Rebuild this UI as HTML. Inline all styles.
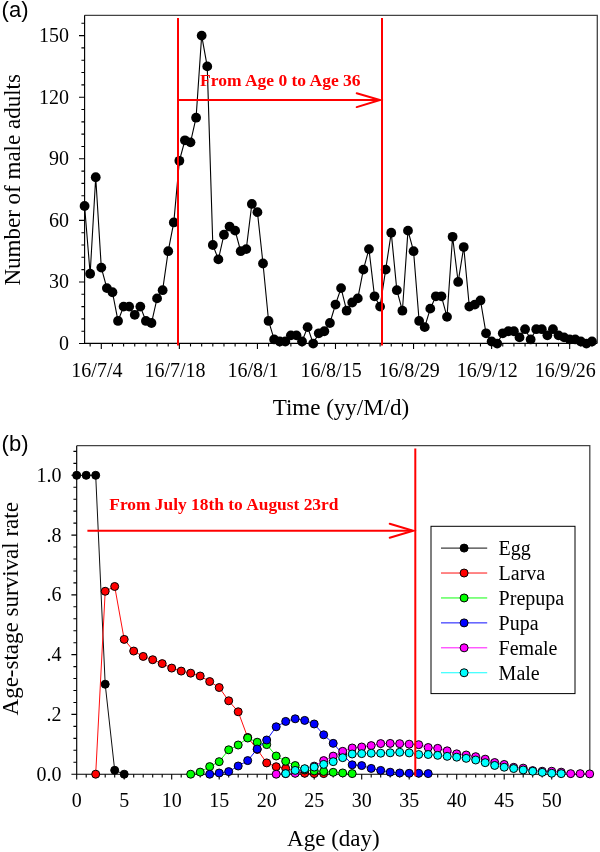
<!DOCTYPE html>
<html><head><meta charset="utf-8"><title>Figure</title>
<style>
html,body{margin:0;padding:0;background:#fff;}
body{width:600px;height:852px;overflow:hidden;}
svg{display:block;will-change:transform;}
.s{font-family:"Liberation Serif",serif;fill:#000;}
.rb{font-family:"Liberation Serif",serif;font-weight:bold;fill:#ff0000;}
.h{font-family:"Liberation Sans",sans-serif;fill:#000;}
</style></head><body>
<svg width="600" height="852" viewBox="0 0 600 852">
<rect width="600" height="852" fill="#fff"/>
<g id="a">
<path d="M84.6 15.3H597.3V343.3" fill="none" stroke="#444" stroke-width="1.3"/>
<path d="M84.6 15.3V343.3H597.3" fill="none" stroke="#000" stroke-width="1.15"/>
<path d="M79.00 343.55H84.6M81.40 331.23H84.6M81.40 318.91H84.6M81.40 306.60H84.6M81.40 294.28H84.6M79.00 281.96H84.6M81.40 269.64H84.6M81.40 257.32H84.6M81.40 245.01H84.6M81.40 232.69H84.6M79.00 220.37H84.6M81.40 208.05H84.6M81.40 195.73H84.6M81.40 183.42H84.6M81.40 171.10H84.6M79.00 158.78H84.6M81.40 146.46H84.6M81.40 134.14H84.6M81.40 121.83H84.6M81.40 109.51H84.6M79.00 97.19H84.6M81.40 84.87H84.6M81.40 72.55H84.6M81.40 60.24H84.6M81.40 47.92H84.6M79.00 35.60H84.6M81.40 23.28H84.6" stroke="#000" stroke-width="1.1" fill="none"/>
<path d="M90.15 343.3V346.50M101.30 343.3V348.90M112.45 343.3V346.50M123.60 343.3V346.50M134.75 343.3V346.50M145.91 343.3V346.50M157.06 343.3V346.50M168.21 343.3V346.50M179.36 343.3V348.90M190.51 343.3V346.50M201.67 343.3V346.50M212.82 343.3V346.50M223.97 343.3V346.50M235.12 343.3V346.50M246.27 343.3V346.50M257.43 343.3V348.90M268.58 343.3V346.50M279.73 343.3V346.50M290.88 343.3V346.50M302.03 343.3V346.50M313.19 343.3V346.50M324.34 343.3V346.50M335.49 343.3V348.90M346.64 343.3V346.50M357.79 343.3V346.50M368.95 343.3V346.50M380.10 343.3V346.50M391.25 343.3V346.50M402.40 343.3V346.50M413.55 343.3V348.90M424.71 343.3V346.50M435.86 343.3V346.50M447.01 343.3V346.50M458.16 343.3V346.50M469.31 343.3V346.50M480.47 343.3V346.50M491.62 343.3V348.90M502.77 343.3V346.50M513.92 343.3V346.50M525.07 343.3V346.50M536.23 343.3V346.50M547.38 343.3V346.50M558.53 343.3V346.50M569.68 343.3V348.90M580.83 343.3V346.50M591.99 343.3V346.50" stroke="#000" stroke-width="1.1" fill="none"/>
<polyline points="84.57,206.00 90.15,273.75 95.72,177.26 101.30,267.59 106.87,288.12 112.45,292.23 118.03,320.97 123.60,306.60 129.18,306.60 134.75,314.81 140.33,306.60 145.91,320.97 151.48,323.02 157.06,298.38 162.63,290.17 168.21,251.17 173.79,222.42 179.36,160.83 184.94,140.30 190.51,142.36 196.09,117.72 201.67,35.60 207.24,66.40 212.82,245.01 218.39,259.38 223.97,234.74 229.55,226.53 235.12,230.64 240.70,251.17 246.27,249.11 251.85,203.95 257.43,212.16 263.00,263.48 268.58,320.97 274.15,339.44 279.73,341.50 285.31,341.50 290.88,335.34 296.46,335.34 302.03,341.50 307.61,327.13 313.19,343.55 318.76,333.29 324.34,331.23 329.91,323.02 335.49,304.54 341.07,288.12 346.64,310.70 352.22,302.49 357.79,298.38 363.37,269.64 368.95,249.11 374.52,296.33 380.10,306.60 385.67,269.64 391.25,232.69 396.83,290.17 402.40,310.70 407.98,230.64 413.55,251.17 419.13,320.97 424.71,327.13 430.28,308.65 435.86,296.33 441.43,296.33 447.01,316.86 452.59,236.79 458.16,281.96 463.74,247.06 469.31,306.60 474.89,304.54 480.47,300.44 486.04,333.29 491.62,341.50 497.19,343.55 502.77,333.29 508.35,331.23 513.92,331.23 519.50,337.39 525.07,329.18 530.65,339.44 536.23,329.18 541.80,329.18 547.38,335.34 552.95,329.18 558.53,335.34 564.11,337.39 569.68,339.44 575.26,339.44 580.83,341.50 586.41,343.55 591.99,341.50" fill="none" stroke="#000" stroke-width="1.1"/>
<g fill="#000"><circle cx="84.57" cy="206.00" r="4.9"/><circle cx="90.15" cy="273.75" r="4.9"/><circle cx="95.72" cy="177.26" r="4.9"/><circle cx="101.30" cy="267.59" r="4.9"/><circle cx="106.87" cy="288.12" r="4.9"/><circle cx="112.45" cy="292.23" r="4.9"/><circle cx="118.03" cy="320.97" r="4.9"/><circle cx="123.60" cy="306.60" r="4.9"/><circle cx="129.18" cy="306.60" r="4.9"/><circle cx="134.75" cy="314.81" r="4.9"/><circle cx="140.33" cy="306.60" r="4.9"/><circle cx="145.91" cy="320.97" r="4.9"/><circle cx="151.48" cy="323.02" r="4.9"/><circle cx="157.06" cy="298.38" r="4.9"/><circle cx="162.63" cy="290.17" r="4.9"/><circle cx="168.21" cy="251.17" r="4.9"/><circle cx="173.79" cy="222.42" r="4.9"/><circle cx="179.36" cy="160.83" r="4.9"/><circle cx="184.94" cy="140.30" r="4.9"/><circle cx="190.51" cy="142.36" r="4.9"/><circle cx="196.09" cy="117.72" r="4.9"/><circle cx="201.67" cy="35.60" r="4.9"/><circle cx="207.24" cy="66.40" r="4.9"/><circle cx="212.82" cy="245.01" r="4.9"/><circle cx="218.39" cy="259.38" r="4.9"/><circle cx="223.97" cy="234.74" r="4.9"/><circle cx="229.55" cy="226.53" r="4.9"/><circle cx="235.12" cy="230.64" r="4.9"/><circle cx="240.70" cy="251.17" r="4.9"/><circle cx="246.27" cy="249.11" r="4.9"/><circle cx="251.85" cy="203.95" r="4.9"/><circle cx="257.43" cy="212.16" r="4.9"/><circle cx="263.00" cy="263.48" r="4.9"/><circle cx="268.58" cy="320.97" r="4.9"/><circle cx="274.15" cy="339.44" r="4.9"/><circle cx="279.73" cy="341.50" r="4.9"/><circle cx="285.31" cy="341.50" r="4.9"/><circle cx="290.88" cy="335.34" r="4.9"/><circle cx="296.46" cy="335.34" r="4.9"/><circle cx="302.03" cy="341.50" r="4.9"/><circle cx="307.61" cy="327.13" r="4.9"/><circle cx="313.19" cy="343.55" r="4.9"/><circle cx="318.76" cy="333.29" r="4.9"/><circle cx="324.34" cy="331.23" r="4.9"/><circle cx="329.91" cy="323.02" r="4.9"/><circle cx="335.49" cy="304.54" r="4.9"/><circle cx="341.07" cy="288.12" r="4.9"/><circle cx="346.64" cy="310.70" r="4.9"/><circle cx="352.22" cy="302.49" r="4.9"/><circle cx="357.79" cy="298.38" r="4.9"/><circle cx="363.37" cy="269.64" r="4.9"/><circle cx="368.95" cy="249.11" r="4.9"/><circle cx="374.52" cy="296.33" r="4.9"/><circle cx="380.10" cy="306.60" r="4.9"/><circle cx="385.67" cy="269.64" r="4.9"/><circle cx="391.25" cy="232.69" r="4.9"/><circle cx="396.83" cy="290.17" r="4.9"/><circle cx="402.40" cy="310.70" r="4.9"/><circle cx="407.98" cy="230.64" r="4.9"/><circle cx="413.55" cy="251.17" r="4.9"/><circle cx="419.13" cy="320.97" r="4.9"/><circle cx="424.71" cy="327.13" r="4.9"/><circle cx="430.28" cy="308.65" r="4.9"/><circle cx="435.86" cy="296.33" r="4.9"/><circle cx="441.43" cy="296.33" r="4.9"/><circle cx="447.01" cy="316.86" r="4.9"/><circle cx="452.59" cy="236.79" r="4.9"/><circle cx="458.16" cy="281.96" r="4.9"/><circle cx="463.74" cy="247.06" r="4.9"/><circle cx="469.31" cy="306.60" r="4.9"/><circle cx="474.89" cy="304.54" r="4.9"/><circle cx="480.47" cy="300.44" r="4.9"/><circle cx="486.04" cy="333.29" r="4.9"/><circle cx="491.62" cy="341.50" r="4.9"/><circle cx="497.19" cy="343.55" r="4.9"/><circle cx="502.77" cy="333.29" r="4.9"/><circle cx="508.35" cy="331.23" r="4.9"/><circle cx="513.92" cy="331.23" r="4.9"/><circle cx="519.50" cy="337.39" r="4.9"/><circle cx="525.07" cy="329.18" r="4.9"/><circle cx="530.65" cy="339.44" r="4.9"/><circle cx="536.23" cy="329.18" r="4.9"/><circle cx="541.80" cy="329.18" r="4.9"/><circle cx="547.38" cy="335.34" r="4.9"/><circle cx="552.95" cy="329.18" r="4.9"/><circle cx="558.53" cy="335.34" r="4.9"/><circle cx="564.11" cy="337.39" r="4.9"/><circle cx="569.68" cy="339.44" r="4.9"/><circle cx="575.26" cy="339.44" r="4.9"/><circle cx="580.83" cy="341.50" r="4.9"/><circle cx="586.41" cy="343.55" r="4.9"/><circle cx="591.99" cy="341.50" r="4.9"/></g>
<g stroke="#ff0000" fill="none" stroke-width="2">
<path d="M178 18V345.4M382 18V345.4"/>
<path d="M178 100H379"/>
<path d="M356.7 93.3L380 100L356.7 107.1" stroke-linecap="round" stroke-linejoin="miter"/>
</g>
<text x="200.0" y="85.7" class="rb" font-size="17.5">From Age 0 to Age 36</text>
<text x="69" y="349.95" class="s" font-size="20" text-anchor="end">0</text>
<text x="69" y="288.36" class="s" font-size="20" text-anchor="end">30</text>
<text x="69" y="226.77" class="s" font-size="20" text-anchor="end">60</text>
<text x="69" y="165.18" class="s" font-size="20" text-anchor="end">90</text>
<text x="69" y="103.59" class="s" font-size="20" text-anchor="end">120</text>
<text x="69" y="42.00" class="s" font-size="20" text-anchor="end">150</text>
<text x="96.90" y="376.6" class="s" font-size="20" text-anchor="middle">16/7/4</text>
<text x="174.96" y="376.6" class="s" font-size="20" text-anchor="middle">16/7/18</text>
<text x="253.03" y="376.6" class="s" font-size="20" text-anchor="middle">16/8/1</text>
<text x="331.09" y="376.6" class="s" font-size="20" text-anchor="middle">16/8/15</text>
<text x="409.15" y="376.6" class="s" font-size="20" text-anchor="middle">16/8/29</text>
<text x="487.22" y="376.6" class="s" font-size="20" text-anchor="middle">16/9/12</text>
<text x="565.28" y="376.6" class="s" font-size="20" text-anchor="middle">16/9/26</text>
<text x="341" y="415.1" class="s" font-size="23" text-anchor="middle">Time (yy/M/d)</text>
<text transform="translate(19.8 179.8) rotate(-90)" class="s" font-size="23" text-anchor="middle">Number of male adults</text>
<text x="1.6" y="16.7" class="h" font-size="22">(a)</text>
</g>
<g id="b">
<path d="M76.7 445.7H589.8V774.2" fill="none" stroke="#444" stroke-width="1.3"/>
<path d="M76.7 445.7V774.2H589.8" fill="none" stroke="#000" stroke-width="1.15"/>
<path d="M71.40 774.20H76.7M73.40 762.24H76.7M73.40 750.29H76.7M73.40 738.33H76.7M73.40 726.38H76.7M71.40 714.42H76.7M73.40 702.46H76.7M73.40 690.51H76.7M73.40 678.55H76.7M73.40 666.60H76.7M71.40 654.64H76.7M73.40 642.68H76.7M73.40 630.73H76.7M73.40 618.77H76.7M73.40 606.82H76.7M71.40 594.86H76.7M73.40 582.90H76.7M73.40 570.95H76.7M73.40 558.99H76.7M73.40 547.04H76.7M71.40 535.08H76.7M73.40 523.12H76.7M73.40 511.17H76.7M73.40 499.21H76.7M73.40 487.26H76.7M71.40 475.30H76.7M73.40 463.34H76.7M73.40 451.39H76.7" stroke="#000" stroke-width="1.1" fill="none"/>
<path d="M76.70 774.2V779.50M86.20 774.2V777.50M95.70 774.2V777.50M105.20 774.2V777.50M114.70 774.2V777.50M124.20 774.2V779.50M133.70 774.2V777.50M143.20 774.2V777.50M152.70 774.2V777.50M162.20 774.2V777.50M171.70 774.2V779.50M181.20 774.2V777.50M190.70 774.2V777.50M200.20 774.2V777.50M209.70 774.2V777.50M219.20 774.2V779.50M228.70 774.2V777.50M238.20 774.2V777.50M247.70 774.2V777.50M257.20 774.2V777.50M266.70 774.2V779.50M276.20 774.2V777.50M285.70 774.2V777.50M295.20 774.2V777.50M304.70 774.2V777.50M314.20 774.2V779.50M323.70 774.2V777.50M333.20 774.2V777.50M342.70 774.2V777.50M352.20 774.2V777.50M361.70 774.2V779.50M371.20 774.2V777.50M380.70 774.2V777.50M390.20 774.2V777.50M399.70 774.2V777.50M409.20 774.2V779.50M418.70 774.2V777.50M428.20 774.2V777.50M437.70 774.2V777.50M447.20 774.2V777.50M456.70 774.2V779.50M466.20 774.2V777.50M475.70 774.2V777.50M485.20 774.2V777.50M494.70 774.2V777.50M504.20 774.2V779.50M513.70 774.2V777.50M523.20 774.2V777.50M532.70 774.2V777.50M542.20 774.2V777.50M551.70 774.2V779.50M561.20 774.2V777.50M570.70 774.2V777.50M580.20 774.2V777.50M589.70 774.2V777.50" stroke="#000" stroke-width="1.1" fill="none"/>
<polyline points="76.70,475.30 86.20,475.30 95.70,475.30 105.20,684.23 114.70,770.31 124.20,774.20" fill="none" stroke="#000000" stroke-width="0.95"/>
<g fill="#000000" stroke="#000" stroke-width="1"><circle cx="76.70" cy="475.30" r="4.0"/><circle cx="86.20" cy="475.30" r="4.0"/><circle cx="95.70" cy="475.30" r="4.0"/><circle cx="105.20" cy="684.23" r="4.0"/><circle cx="114.70" cy="770.31" r="4.0"/><circle cx="124.20" cy="774.20" r="4.0"/></g>
<polyline points="95.70,774.20 105.20,591.27 114.70,586.49 124.20,639.40 133.70,651.05 143.20,656.43 152.70,659.72 162.20,663.61 171.70,668.09 181.20,671.08 190.70,673.17 200.20,676.01 209.70,681.54 219.20,687.52 228.70,700.79 238.20,711.79 247.70,737.44 257.20,749.39 266.70,762.90 276.20,766.70 285.70,768.40 295.20,771.00 304.70,773.30 314.20,773.60 323.70,773.60" fill="none" stroke="#ff0000" stroke-width="0.95"/>
<g fill="#ff0000" stroke="#000" stroke-width="1"><circle cx="95.70" cy="774.20" r="4.0"/><circle cx="105.20" cy="591.27" r="4.0"/><circle cx="114.70" cy="586.49" r="4.0"/><circle cx="124.20" cy="639.40" r="4.0"/><circle cx="133.70" cy="651.05" r="4.0"/><circle cx="143.20" cy="656.43" r="4.0"/><circle cx="152.70" cy="659.72" r="4.0"/><circle cx="162.20" cy="663.61" r="4.0"/><circle cx="171.70" cy="668.09" r="4.0"/><circle cx="181.20" cy="671.08" r="4.0"/><circle cx="190.70" cy="673.17" r="4.0"/><circle cx="200.20" cy="676.01" r="4.0"/><circle cx="209.70" cy="681.54" r="4.0"/><circle cx="219.20" cy="687.52" r="4.0"/><circle cx="228.70" cy="700.79" r="4.0"/><circle cx="238.20" cy="711.79" r="4.0"/><circle cx="247.70" cy="737.44" r="4.0"/><circle cx="257.20" cy="749.39" r="4.0"/><circle cx="266.70" cy="762.90" r="4.0"/><circle cx="276.20" cy="766.70" r="4.0"/><circle cx="285.70" cy="768.40" r="4.0"/><circle cx="295.20" cy="771.00" r="4.0"/><circle cx="304.70" cy="773.30" r="4.0"/><circle cx="314.20" cy="773.60" r="4.0"/><circle cx="323.70" cy="773.60" r="4.0"/></g>
<polyline points="190.70,774.20 200.20,772.11 209.70,766.61 219.20,761.65 228.70,749.81 238.20,745.00 247.70,738.03 257.20,742.22 266.70,744.61 276.20,756.00 285.70,761.26 295.20,765.53 304.70,770.02 314.20,770.91 323.70,771.45 333.20,772.32 342.70,772.94 352.20,773.60" fill="none" stroke="#00ff00" stroke-width="0.95"/>
<g fill="#00ff00" stroke="#000" stroke-width="1"><circle cx="190.70" cy="774.20" r="4.0"/><circle cx="200.20" cy="772.11" r="4.0"/><circle cx="209.70" cy="766.61" r="4.0"/><circle cx="219.20" cy="761.65" r="4.0"/><circle cx="228.70" cy="749.81" r="4.0"/><circle cx="238.20" cy="745.00" r="4.0"/><circle cx="247.70" cy="738.03" r="4.0"/><circle cx="257.20" cy="742.22" r="4.0"/><circle cx="266.70" cy="744.61" r="4.0"/><circle cx="276.20" cy="756.00" r="4.0"/><circle cx="285.70" cy="761.26" r="4.0"/><circle cx="295.20" cy="765.53" r="4.0"/><circle cx="304.70" cy="770.02" r="4.0"/><circle cx="314.20" cy="770.91" r="4.0"/><circle cx="323.70" cy="771.45" r="4.0"/><circle cx="333.20" cy="772.32" r="4.0"/><circle cx="342.70" cy="772.94" r="4.0"/><circle cx="352.20" cy="773.60" r="4.0"/></g>
<polyline points="209.70,774.20 219.20,773.00 228.70,771.60 238.20,766.01 247.70,760.60 257.20,749.00 266.70,740.01 276.20,726.79 285.70,721.41 295.20,718.81 304.70,720.40 314.20,723.98 323.70,734.80 333.20,743.35 342.70,753.99 352.20,764.81 361.70,765.59 371.20,768.40 380.70,770.40 390.20,772.20 399.70,773.00 409.20,773.30 418.70,773.30 428.20,773.60" fill="none" stroke="#0000ff" stroke-width="0.95"/>
<g fill="#0000ff" stroke="#000" stroke-width="1"><circle cx="209.70" cy="774.20" r="4.0"/><circle cx="219.20" cy="773.00" r="4.0"/><circle cx="228.70" cy="771.60" r="4.0"/><circle cx="238.20" cy="766.01" r="4.0"/><circle cx="247.70" cy="760.60" r="4.0"/><circle cx="257.20" cy="749.00" r="4.0"/><circle cx="266.70" cy="740.01" r="4.0"/><circle cx="276.20" cy="726.79" r="4.0"/><circle cx="285.70" cy="721.41" r="4.0"/><circle cx="295.20" cy="718.81" r="4.0"/><circle cx="304.70" cy="720.40" r="4.0"/><circle cx="314.20" cy="723.98" r="4.0"/><circle cx="323.70" cy="734.80" r="4.0"/><circle cx="333.20" cy="743.35" r="4.0"/><circle cx="342.70" cy="753.99" r="4.0"/><circle cx="352.20" cy="764.81" r="4.0"/><circle cx="361.70" cy="765.59" r="4.0"/><circle cx="371.20" cy="768.40" r="4.0"/><circle cx="380.70" cy="770.40" r="4.0"/><circle cx="390.20" cy="772.20" r="4.0"/><circle cx="399.70" cy="773.00" r="4.0"/><circle cx="409.20" cy="773.30" r="4.0"/><circle cx="418.70" cy="773.30" r="4.0"/><circle cx="428.20" cy="773.60" r="4.0"/></g>
<polyline points="276.20,774.20 285.70,773.60 295.20,773.30 304.70,769.12 314.20,766.13 323.70,760.60 333.20,756.12 342.70,751.33 352.20,747.99 361.70,747.00 371.20,745.60 380.70,743.59 390.20,743.41 399.70,743.65 409.20,744.16 418.70,744.67 428.20,747.51 437.70,748.35 447.20,750.83 456.70,753.84 466.20,755.01 475.70,756.68 485.20,759.17 494.70,762.54 504.20,764.46 513.70,767.33 523.20,768.13 532.70,770.61 542.20,771.24 551.70,771.24 561.20,772.17 570.70,773.63 580.20,773.63 589.70,773.90" fill="none" stroke="#ff00ff" stroke-width="0.95"/>
<g fill="#ff00ff" stroke="#000" stroke-width="1"><circle cx="276.20" cy="774.20" r="4.0"/><circle cx="285.70" cy="773.60" r="4.0"/><circle cx="295.20" cy="773.30" r="4.0"/><circle cx="304.70" cy="769.12" r="4.0"/><circle cx="314.20" cy="766.13" r="4.0"/><circle cx="323.70" cy="760.60" r="4.0"/><circle cx="333.20" cy="756.12" r="4.0"/><circle cx="342.70" cy="751.33" r="4.0"/><circle cx="352.20" cy="747.99" r="4.0"/><circle cx="361.70" cy="747.00" r="4.0"/><circle cx="371.20" cy="745.60" r="4.0"/><circle cx="380.70" cy="743.59" r="4.0"/><circle cx="390.20" cy="743.41" r="4.0"/><circle cx="399.70" cy="743.65" r="4.0"/><circle cx="409.20" cy="744.16" r="4.0"/><circle cx="418.70" cy="744.67" r="4.0"/><circle cx="428.20" cy="747.51" r="4.0"/><circle cx="437.70" cy="748.35" r="4.0"/><circle cx="447.20" cy="750.83" r="4.0"/><circle cx="456.70" cy="753.84" r="4.0"/><circle cx="466.20" cy="755.01" r="4.0"/><circle cx="475.70" cy="756.68" r="4.0"/><circle cx="485.20" cy="759.17" r="4.0"/><circle cx="494.70" cy="762.54" r="4.0"/><circle cx="504.20" cy="764.46" r="4.0"/><circle cx="513.70" cy="767.33" r="4.0"/><circle cx="523.20" cy="768.13" r="4.0"/><circle cx="532.70" cy="770.61" r="4.0"/><circle cx="542.20" cy="771.24" r="4.0"/><circle cx="551.70" cy="771.24" r="4.0"/><circle cx="561.20" cy="772.17" r="4.0"/><circle cx="570.70" cy="773.63" r="4.0"/><circle cx="580.20" cy="773.63" r="4.0"/><circle cx="589.70" cy="773.90" r="4.0"/></g>
<polyline points="285.70,773.60 295.20,770.40 304.70,768.70 314.20,767.09 323.70,764.40 333.20,761.65 342.70,757.67 352.20,753.99 361.70,753.61 371.20,753.19 380.70,753.19 390.20,752.80 399.70,752.29 409.20,752.92 418.70,754.50 428.20,754.50 437.70,755.34 447.20,756.33 456.70,757.16 466.20,758.33 475.70,760.00 485.20,762.66 494.70,765.44 504.20,767.21 513.70,768.52 523.20,769.96 532.70,771.24 542.20,772.35 551.70,773.27 561.20,773.63" fill="none" stroke="#00ffff" stroke-width="0.95"/>
<g fill="#00ffff" stroke="#000" stroke-width="1"><circle cx="285.70" cy="773.60" r="4.0"/><circle cx="295.20" cy="770.40" r="4.0"/><circle cx="304.70" cy="768.70" r="4.0"/><circle cx="314.20" cy="767.09" r="4.0"/><circle cx="323.70" cy="764.40" r="4.0"/><circle cx="333.20" cy="761.65" r="4.0"/><circle cx="342.70" cy="757.67" r="4.0"/><circle cx="352.20" cy="753.99" r="4.0"/><circle cx="361.70" cy="753.61" r="4.0"/><circle cx="371.20" cy="753.19" r="4.0"/><circle cx="380.70" cy="753.19" r="4.0"/><circle cx="390.20" cy="752.80" r="4.0"/><circle cx="399.70" cy="752.29" r="4.0"/><circle cx="409.20" cy="752.92" r="4.0"/><circle cx="418.70" cy="754.50" r="4.0"/><circle cx="428.20" cy="754.50" r="4.0"/><circle cx="437.70" cy="755.34" r="4.0"/><circle cx="447.20" cy="756.33" r="4.0"/><circle cx="456.70" cy="757.16" r="4.0"/><circle cx="466.20" cy="758.33" r="4.0"/><circle cx="475.70" cy="760.00" r="4.0"/><circle cx="485.20" cy="762.66" r="4.0"/><circle cx="494.70" cy="765.44" r="4.0"/><circle cx="504.20" cy="767.21" r="4.0"/><circle cx="513.70" cy="768.52" r="4.0"/><circle cx="523.20" cy="769.96" r="4.0"/><circle cx="532.70" cy="771.24" r="4.0"/><circle cx="542.20" cy="772.35" r="4.0"/><circle cx="551.70" cy="773.27" r="4.0"/><circle cx="561.20" cy="773.63" r="4.0"/></g>
<g stroke="#ff0000" fill="none" stroke-width="2">
<path d="M415.3 448.4V776.3"/>
<path d="M87.4 530.7H412"/>
<path d="M389.7 523.8L413.2 530.7L389.7 537.8" stroke-linecap="round"/>
</g>
<text x="109.3" y="510" class="rb" font-size="17.4">From July 18th to August 23rd</text>
<rect x="431" y="526.3" width="144" height="167.3" fill="#fff" stroke="#000" stroke-width="1"/>
<path d="M441 548.10H487.2" stroke="#000000" stroke-width="0.95"/>
<circle cx="464.1" cy="548.10" r="4.0" fill="#000000" stroke="#000" stroke-width="1"/>
<text x="498.6" y="554.90" class="s" font-size="20">Egg</text>
<path d="M441 573.03H487.2" stroke="#ff0000" stroke-width="0.95"/>
<circle cx="464.1" cy="573.03" r="4.0" fill="#ff0000" stroke="#000" stroke-width="1"/>
<text x="498.6" y="579.83" class="s" font-size="20">Larva</text>
<path d="M441 597.96H487.2" stroke="#00ff00" stroke-width="0.95"/>
<circle cx="464.1" cy="597.96" r="4.0" fill="#00ff00" stroke="#000" stroke-width="1"/>
<text x="498.6" y="604.76" class="s" font-size="20">Prepupa</text>
<path d="M441 622.89H487.2" stroke="#0000ff" stroke-width="0.95"/>
<circle cx="464.1" cy="622.89" r="4.0" fill="#0000ff" stroke="#000" stroke-width="1"/>
<text x="498.6" y="629.69" class="s" font-size="20">Pupa</text>
<path d="M441 647.82H487.2" stroke="#ff00ff" stroke-width="0.95"/>
<circle cx="464.1" cy="647.82" r="4.0" fill="#ff00ff" stroke="#000" stroke-width="1"/>
<text x="498.6" y="654.62" class="s" font-size="20">Female</text>
<path d="M441 672.75H487.2" stroke="#00ffff" stroke-width="0.95"/>
<circle cx="464.1" cy="672.75" r="4.0" fill="#00ffff" stroke="#000" stroke-width="1"/>
<text x="498.6" y="679.55" class="s" font-size="20">Male</text>
<text x="61.5" y="780.80" class="s" font-size="20" text-anchor="end">0.0</text>
<text x="61.5" y="721.02" class="s" font-size="20" text-anchor="end">.2</text>
<text x="61.5" y="661.24" class="s" font-size="20" text-anchor="end">.4</text>
<text x="61.5" y="601.46" class="s" font-size="20" text-anchor="end">.6</text>
<text x="61.5" y="541.68" class="s" font-size="20" text-anchor="end">.8</text>
<text x="61.5" y="481.90" class="s" font-size="20" text-anchor="end">1.0</text>
<text x="76.70" y="806.5" class="s" font-size="20" text-anchor="middle">0</text>
<text x="124.20" y="806.5" class="s" font-size="20" text-anchor="middle">5</text>
<text x="171.70" y="806.5" class="s" font-size="20" text-anchor="middle">10</text>
<text x="219.20" y="806.5" class="s" font-size="20" text-anchor="middle">15</text>
<text x="266.70" y="806.5" class="s" font-size="20" text-anchor="middle">20</text>
<text x="314.20" y="806.5" class="s" font-size="20" text-anchor="middle">25</text>
<text x="361.70" y="806.5" class="s" font-size="20" text-anchor="middle">30</text>
<text x="409.20" y="806.5" class="s" font-size="20" text-anchor="middle">35</text>
<text x="456.70" y="806.5" class="s" font-size="20" text-anchor="middle">40</text>
<text x="504.20" y="806.5" class="s" font-size="20" text-anchor="middle">45</text>
<text x="551.70" y="806.5" class="s" font-size="20" text-anchor="middle">50</text>
<text x="333.4" y="845.6" class="s" font-size="23" text-anchor="middle">Age (day)</text>
<text transform="translate(18.2 608.8) rotate(-90)" class="s" font-size="23" text-anchor="middle">Age-stage survival rate</text>
<text x="1.6" y="450.9" class="h" font-size="22">(b)</text>
</g>
</svg>
</body></html>
